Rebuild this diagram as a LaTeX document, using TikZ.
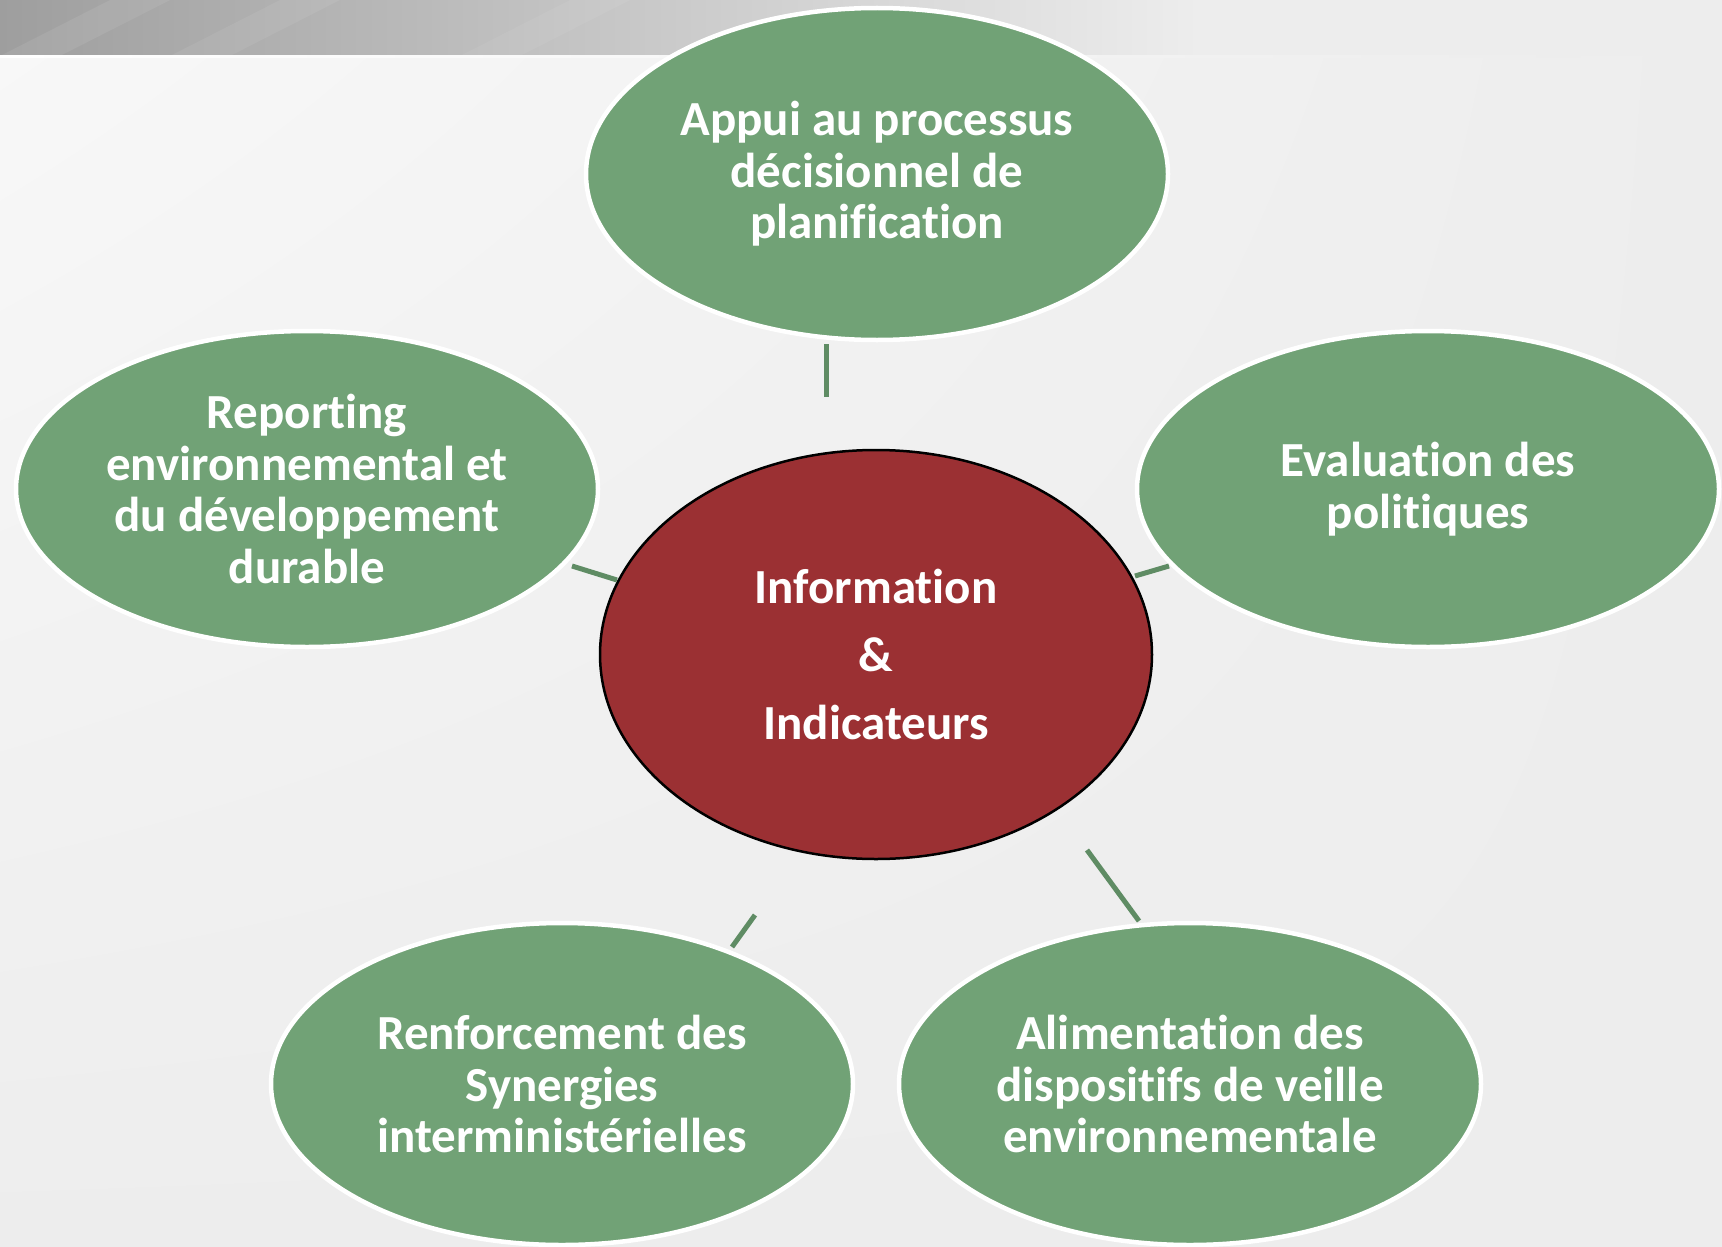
\documentclass[tikz,border=0pt]{standalone}
\usepackage{fontspec}
\setmainfont{Carlito}[Ligatures = NoCommon]
\usetikzlibrary{shapes.geometric}
\usetikzlibrary{shadings}
\definecolor{leafgreen}{HTML}{71A276}
\definecolor{hubred}{HTML}{9B3033}
\definecolor{linkgreen}{HTML}{5F8C64}
\definecolor{bggray}{HTML}{EDEDED}
\tikzset{leaf/.style = {ellipse, fill = leafgreen, draw = white, line width = 4.5pt,
                        inner sep = 0, minimum width = 582pt, minimum height = 316pt,
                        text = white, align = center,
                        font = \bfseries\fontsize{49}{51.5}\selectfont}}
\tikzset{hub/.style = {ellipse, fill = hubred, draw = black, line width = 2.5pt,
                       inner sep = 0, minimum width = 552pt, minimum height = 409pt,
                       text = white, align = center,
                       font = \bfseries\fontsize{49}{68}\selectfont}}
\tikzset{link/.style = {draw = linkgreen, line width = 5pt}}

\begin{document}
\begin{tikzpicture}[x = 1pt, y = -1pt]
      \useasboundingbox (0, 0) rectangle (1722, 1247);
      \fill [bggray] (0, 0) rectangle (1722, 1247);
      \shade [upper left = white!60!bggray, upper right = bggray,
              lower left = bggray, lower right = bggray] (0, 57) rectangle (1722, 1247);
      \shade [left color = black!38, middle color = black!18, right color = bggray] (0, 0) rectangle (1200, 56);
      \begin{scope}
        \clip (0, 0) rectangle (1200, 56);
        \fill [white, opacity = 0.08] (0, 56) -- (60, 56) -- (170, 0) -- (110, 0) -- cycle;
        \fill [white, opacity = 0.07] (170, 56) -- (230, 56) -- (340, 0) -- (280, 0) -- cycle;
        \fill [white, opacity = 0.06] (460, 56) -- (520, 56) -- (630, 0) -- (570, 0) -- cycle;
      \end{scope}
      \shade [left color = white, right color = bggray] (0, 55.5) rectangle (1580, 58);
      \node [leaf, minimum height = 332pt] (plan) at (877, 174) {Appui au processus\\décisionnel de\\planification};
      \node [leaf] (report) at (307, 489) {Reporting\\environnemental et\\du développement\\durable};
      \node [leaf] (eval) at (1428, 489) {Evaluation des\\politiques};
      \node [hub] (info) at (876, 654.5) {Information\\\&\\Indicateurs};
      \node [leaf, minimum height = 322pt] (syn) at (562, 1084) {Renforcement des\\Synergies\\interministérielles};
      \node [leaf, minimum height = 322pt] (veille) at (1190, 1084) {Alimentation des\\dispositifs de veille\\environnementale};
      \coordinate (plan-a) at (826, 344);
      \coordinate (plan-b) at (826, 397);
      \coordinate (report-a) at (572, 566);
      \coordinate (report-b) at (617, 580);
      \coordinate (eval-a) at (1135, 576);
      \coordinate (eval-b) at (1169, 566);
      \coordinate (syn-a) at (755, 915);
      \coordinate (syn-b) at (732, 947);
      \coordinate (veille-a) at (1087, 850);
      \coordinate (veille-b) at (1139, 921);
      \foreach \n in {plan, report, eval, syn, veille}
        \draw [link] (\n-a) -- (\n-b);
    \end{tikzpicture}
\end{document}
